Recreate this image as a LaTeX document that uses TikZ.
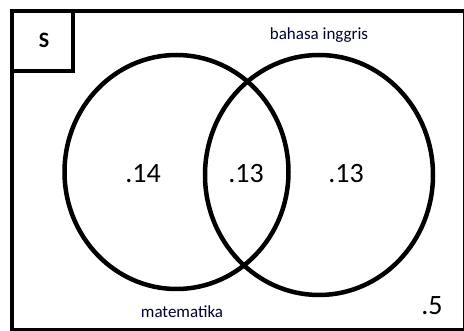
\documentclass[tikz,border=0pt]{standalone}
\usepackage{fontspec}
\setmainfont{Carlito}
\begin{document}
\begin{tikzpicture}[x=1pt,y=-1pt,
  frame/.style={draw=black,line width=4pt},
  setline/.style={draw=black,line width=4.5pt},
  prob/.style={font=\fontsize{28}{30}\selectfont,text=black,inner sep=0pt},
  setname/.style={font=\fontsize{17}{19}\selectfont,text=black!80!blue,inner sep=0pt}]
\useasboundingbox (0,0) rectangle (464,331);
% universe frame and its label box
\draw[frame] (12,11) rectangle (465,330);
\draw[frame] (12,11) rectangle (73,71);
\node[font=\bfseries\fontsize{22}{24}\selectfont,text=black,inner sep=0pt] (s) at (44,40) {S};
% the two sets
\draw[setline] (176.5,172) ellipse [x radius=112, y radius=117];
\draw[setline] (319,175) ellipse [x radius=114, y radius=120];
% set names
\node[setname] (bi) at (319,35) {bahasa inggris};
\node[setname] (mt) at (182,312) {matematika};
% probabilities
\node[prob] (pm) at (143,174) {.14};
\node[prob] (pmb) at (246,174) {.13};
\node[prob] (pb) at (346,174) {.13};
\node[prob] (pn) at (432,306) {.5};
\end{tikzpicture}
\end{document}
